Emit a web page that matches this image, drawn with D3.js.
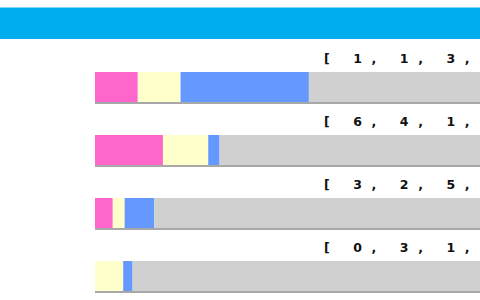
<!DOCTYPE html>
<html lang="en">
<head>
<meta charset="UTF-8">
<title>stacked rows</title>
<script src="https://cdn.jsdelivr.net/npm/d3@7"></script>
<style>
  html, body { margin: 0; padding: 0; background: #fff; overflow: hidden; }
  #chart { width: 480px; height: 300px; }
  .lbl { font-family: "DejaVu Sans", Verdana, sans-serif; font-weight: bold; font-size: 12.5px; letter-spacing: 9.6px; fill: #111; }
</style>
</head>
<body>
<div id="chart"></div>
<script>
// rows and the values of each segment (the last one is the grey rest of the bar)
var rows = ["r1", "r2", "r3", "r4"];
var pinkVals   = [1, 6, 3, 0];
var yellowVals = [1, 4, 2, 3];
var blueVals   = [3, 1, 5, 1];
var restVals   = [4, 23, 55, 37];

var segColors = ["#ff66cc", "#ffffcc", "#6699ff", "#d0d0d0"];

var width = 480, height = 300;
var barLeft = 95, barRight = 480;

var svg = d3.select("#chart").append("svg")
    .attr("width", width)
    .attr("height", height);

// header band
svg.append("rect")
    .attr("x", 0).attr("y", 7)
    .attr("width", width).attr("height", 2)
    .attr("fill", "#7fd3f5");
svg.append("rect")
    .attr("x", 0).attr("y", 8)
    .attr("width", width).attr("height", 31)
    .attr("fill", "#00aeef");

// band step 63, bar height 30
var y = d3.scaleBand()
    .domain(rows)
    .range([72, 72 + 63 * rows.length - 33])
    .paddingInner(33 / 63)
    .paddingOuter(0);

var data = rows.map(function(r, i) {
    var v = [pinkVals[i], yellowVals[i], blueVals[i], restVals[i]];
    var x = d3.scaleLinear().domain([0, d3.sum(v)]).range([barLeft, barRight]);
    var acc = 0;
    var segs = v.map(function(d, j) {
        var s = {x0: x(acc), x1: x(acc + d), color: segColors[j]};
        acc += d;
        return s;
    });
    return {row: r, vals: v, segs: segs};
});

var g = svg.selectAll("g.row")
    .data(data)
    .enter().append("g")
    .attr("class", "row");

g.selectAll("rect.seg")
    .data(function(d) { return d.segs.map(function(s) { s.row = d.row; return s; }); })
    .enter().append("rect")
    .attr("class", "seg")
    .attr("x", function(d) { return d.x0; })
    .attr("y", function(d) { return y(d.row); })
    .attr("width", function(d) { return Math.max(0, d.x1 - d.x0); })
    .attr("height", y.bandwidth())
    .attr("fill", function(d) { return d.color; });

// bottom edge of each bar
g.append("rect")
    .attr("x", barLeft)
    .attr("y", function(d) { return y(d.row) + y.bandwidth(); })
    .attr("width", barRight - barLeft)
    .attr("height", 2)
    .attr("fill", "#a8a8a8");

g.append("text")
    .attr("class", "lbl")
    .attr("x", 324)
    .attr("y", function(d) { return y(d.row) - 9; })
    .text(function(d) { return "[ " + d.vals.join(", ") + " ]"; });
</script>
</body>
</html>
